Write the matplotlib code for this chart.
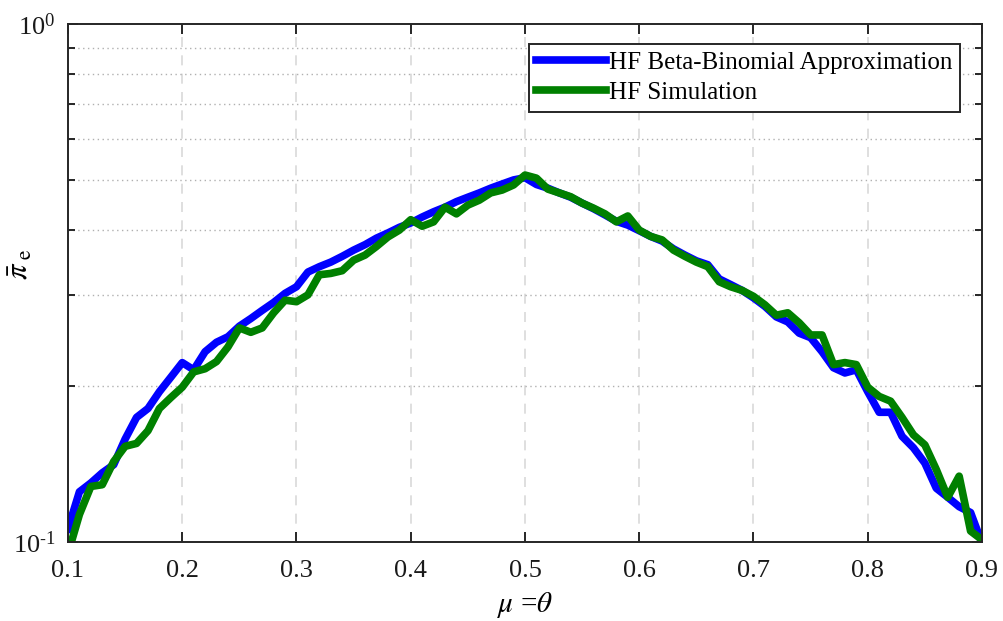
import numpy as np
import matplotlib
matplotlib.use("Agg")
import matplotlib.pyplot as plt
from matplotlib.ticker import LogLocator, NullFormatter, FixedLocator

plt.rcParams['font.family'] = ['Liberation Serif', 'DejaVu Serif']
plt.rcParams['mathtext.fontset'] = 'stix'

# ---- data ----
mu = np.round(np.arange(0.10, 0.905, 0.01), 2)

hf_beta_binomial = [
    0.106, 0.125, 0.130, 0.136, 0.141, 0.158, 0.174, 0.181, 0.195, 0.208,
    0.222, 0.215, 0.233, 0.243, 0.249, 0.261, 0.270, 0.280, 0.290, 0.302,
    0.311, 0.332, 0.340, 0.347, 0.356, 0.366, 0.375, 0.386, 0.395, 0.405,
    0.413, 0.424, 0.434, 0.443, 0.454, 0.463, 0.472, 0.482, 0.491, 0.500,
    0.505, 0.490, 0.482, 0.472, 0.463, 0.451, 0.440, 0.428, 0.416, 0.409,
    0.399, 0.389, 0.381, 0.368, 0.358, 0.349, 0.343, 0.322, 0.314, 0.306,
    0.296, 0.285, 0.272, 0.266, 0.253, 0.248, 0.233, 0.217, 0.212, 0.215,
    0.195, 0.178, 0.178, 0.160, 0.152, 0.142, 0.127, 0.122, 0.117, 0.114,
    0.0995,
]

hf_simulation = [
    0.095, 0.113, 0.128, 0.129, 0.143, 0.153, 0.155, 0.164, 0.181, 0.190,
    0.199, 0.213, 0.216, 0.223, 0.238, 0.259, 0.254, 0.259, 0.277, 0.293,
    0.291, 0.300, 0.328, 0.330, 0.334, 0.350, 0.358, 0.372, 0.388, 0.400,
    0.419, 0.407, 0.415, 0.443, 0.430, 0.447, 0.457, 0.472, 0.478, 0.489,
    0.511, 0.504, 0.480, 0.472, 0.464, 0.451, 0.441, 0.430, 0.415, 0.426,
    0.400, 0.389, 0.383, 0.366, 0.356, 0.347, 0.340, 0.318, 0.311, 0.306,
    0.298, 0.287, 0.274, 0.277, 0.265, 0.251, 0.251, 0.220, 0.222, 0.220,
    0.199, 0.191, 0.187, 0.174, 0.161, 0.154, 0.138, 0.122, 0.134, 0.105,
    0.101,
]

x_ticks = [0.1, 0.2, 0.3, 0.4, 0.5, 0.6, 0.7, 0.8, 0.9]
y_ticks = [0.1, 1]
y_tick_labels = [r'$\mathdefault{10^{\text{-}1}}$', r'$\mathdefault{10^{0}}$']

fig = plt.figure(figsize=(10.04, 6.21), dpi=100)
ax = fig.add_axes([68 / 1004, 1 - 542 / 621, (982 - 68) / 1004, (542 - 24) / 621])

ax.plot(mu, hf_beta_binomial, color=(0, 0, 1), lw=5.5, label='HF Beta-Binomial Approximation')
ax.plot(mu, hf_simulation, color=(0, 0.5, 0), lw=5.5, label='HF Simulation')

ax.set_yscale('log')
ax.set_xlim(0.1, 0.9)
ax.set_ylim(0.1, 1)
ax.set_xticks(x_ticks)
ax.set_xticklabels([f"{v:.1f}" for v in x_ticks])
ax.yaxis.set_major_locator(FixedLocator(y_ticks))
ax.set_yticklabels(y_tick_labels)
ax.yaxis.set_minor_locator(LogLocator(base=10, subs=np.arange(2, 10) * 1.0))
ax.yaxis.set_minor_formatter(NullFormatter())

ax.tick_params(which='both', direction='in', top=True, right=True,
               labelsize=19, width=1.4, colors='#262626', labelcolor='#1a1a1a')
ax.tick_params(which='major', length=7)
ax.tick_params(which='minor', length=5)
ax.tick_params(axis='x', pad=13)
ax.tick_params(axis='y', pad=9)
for s in ax.spines.values():
    s.set_linewidth(1.4)
    s.set_color('#262626')

ax.grid(True, axis='x', which='major', linestyle=(0, (6, 5)), color='#d9d9d9', lw=1.2)
ax.grid(True, axis='y', which='minor', linestyle=(0, (1, 2.5)), color='#b0b0b0', lw=1.0)
ax.set_axisbelow(True)

ax.set_xlabel(r'$\mu$ =$\theta$', fontsize=21, labelpad=6)
ax.set_ylabel(r'$\bar{\pi}_{\;\mathrm{e}}$', fontsize=22)
ax.yaxis.set_label_coords(-0.036, 0.535)

leg = ax.legend(loc='upper right', fontsize=18, frameon=True, fancybox=False,
                edgecolor='#262626', framealpha=1, handlelength=2.8,
                handletextpad=0.12, borderpad=0.3, labelspacing=0.3,
                borderaxespad=0, bbox_to_anchor=(0.976, 0.961))
leg.get_frame().set_linewidth(1.4)

fig.savefig('out.png', dpi=100)
